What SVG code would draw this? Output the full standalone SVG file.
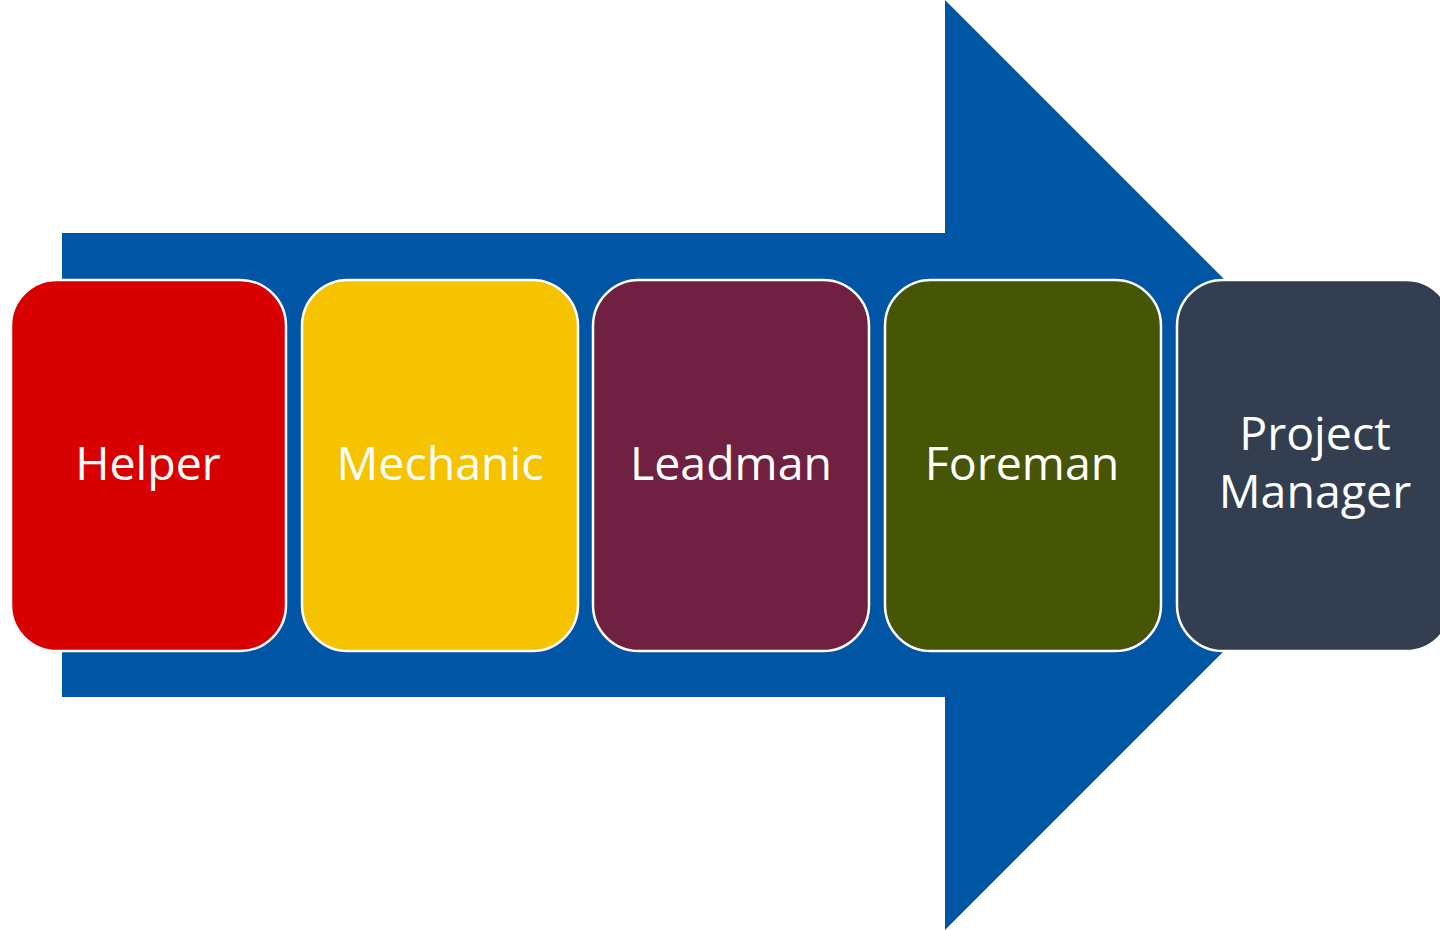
<svg xmlns="http://www.w3.org/2000/svg" width="1440" height="930" viewBox="0 0 1440 930">
<style>
.box{stroke:#ffffff;stroke-width:2.5}
.lbl{font-family:"Open Sans","Liberation Sans",sans-serif;font-size:46.5px;fill:#ffffff;text-anchor:middle}
</style>
<rect width="1440" height="930" fill="#ffffff"/>
<g id="arrow">
<polygon points="62,233 945,233 945,0 1410,465 945,930 945,697 62,697" fill="#0155A5"/>
</g>
<g id="helper">
<rect class="box" x="11" y="280" width="275" height="371" rx="46" fill="#D80000"/>
<text class="lbl" x="148" y="480">Helper</text>
</g>
<g id="mechanic">
<rect class="box" x="302" y="280" width="276" height="371" rx="46" fill="#F5C300"/>
<text class="lbl" x="440" y="480">Mechanic</text>
</g>
<g id="leadman">
<rect class="box" x="593" y="280" width="276" height="371" rx="46" fill="#702040"/>
<text class="lbl" x="731" y="480">Leadman</text>
</g>
<g id="foreman">
<rect class="box" x="885" y="280" width="276" height="371" rx="46" fill="#475506"/>
<text class="lbl" x="1022" y="480">Foreman</text>
</g>
<g id="project-manager">
<rect class="box" x="1177" y="280" width="275" height="371" rx="46" fill="#333F50"/>
<text class="lbl" x="1315" y="450">Project</text>
<text class="lbl" x="1315" y="508">Manager</text>
</g>
</svg>
